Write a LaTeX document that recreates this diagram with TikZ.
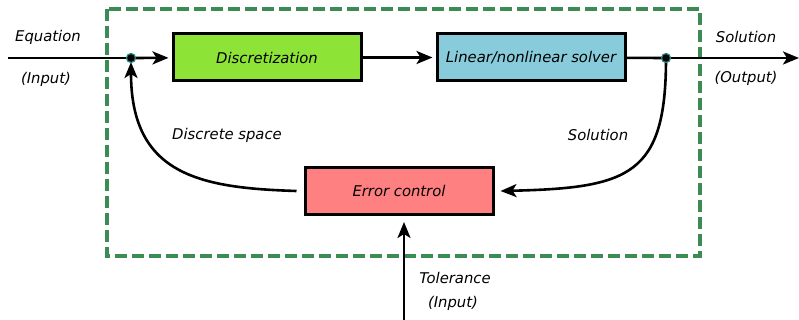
\documentclass[tikz,border=0pt]{standalone}
\usepackage{fontspec}
\setmainfont{DejaVu Sans}
\usetikzlibrary{positioning,arrows.meta}

\definecolor{framegreen}{RGB}{61,139,84}
\definecolor{discgreen}{RGB}{141,228,55}
\definecolor{solverblue}{RGB}{136,204,220}
\definecolor{errred}{RGB}{255,128,128}
\definecolor{dotteal}{RGB}{40,130,130}

\tikzset{
  block/.style={draw,rectangle,line width=3pt,minimum width=188pt,minimum height=47pt,inner sep=0pt},
  flow/.style={line width=2.6pt,-{Stealth[length=16pt,width=13pt,inset=4pt]}},
  junction/.style={circle,fill=black,draw=dotteal,line width=1.2pt,inner sep=0pt,minimum size=9pt},
  lbl/.style={inner sep=0pt}
}

\begin{document}
\begin{tikzpicture}[x=1pt,y=-1pt,font=\fontsize{14.8}{17}\selectfont\itshape]
    \useasboundingbox (0,0) rectangle (799,320);

    % frame
    \draw[framegreen,line width=3.4pt,dash pattern=on 12pt off 5pt] (107,9) rectangle (700,256);

    \node[block,fill=discgreen] (disc) at (267,57.5) {Discretization};
    \node[block,fill=solverblue,right=73pt of disc] (solver) {Linear/nonlinear solver};
    \node[block,fill=errred] (err) at (399,191) {Error control};

    \coordinate (in) at (8,58);
    \coordinate (out) at (799,58);
    \coordinate (tol) at (404,320);
    \coordinate (split) at (131,58);
    \coordinate (tap) at (666,58);

    \node[lbl] (eq) at (48,37) {Equation};
    \node[lbl] (eqin) at (46,79) {(Input)};
    \node[lbl] (sol) at (746,37) {Solution};
    \node[lbl] (solout) at (746,78) {(Output)};
    \node[lbl] (dspace) at (227,135) {Discrete space};
    \node[lbl] (solback) at (598,135) {Solution};
    \node[lbl] (tolname) at (455,278) {Tolerance};
    \node[lbl] (tolin) at (453,303) {(Input)};

    % arrows
    \draw[line width=2.6pt] (in) -- (split);
    \draw[flow,shorten >=3pt] (split) -- (disc);
    \draw[flow,shorten >=3pt] (disc) -- (solver);
    \draw[line width=2.6pt] (solver) -- (tap);
    \draw[flow] (tap) -- (out);
    \draw[flow] (tap) .. controls (666,175) and (630,188) .. ([xshift=6pt]err.east);
    \draw[flow,shorten >=4pt] ([xshift=-7pt]err.west) .. controls (200,188) and (131,175) .. (split);
    \draw[flow] (tol) -- ([yshift=-6pt]err.south -| tol);

    % junction dots
    \node[junction] at (split) {};
    \node[junction] at (tap) {};
\end{tikzpicture}
\end{document}
